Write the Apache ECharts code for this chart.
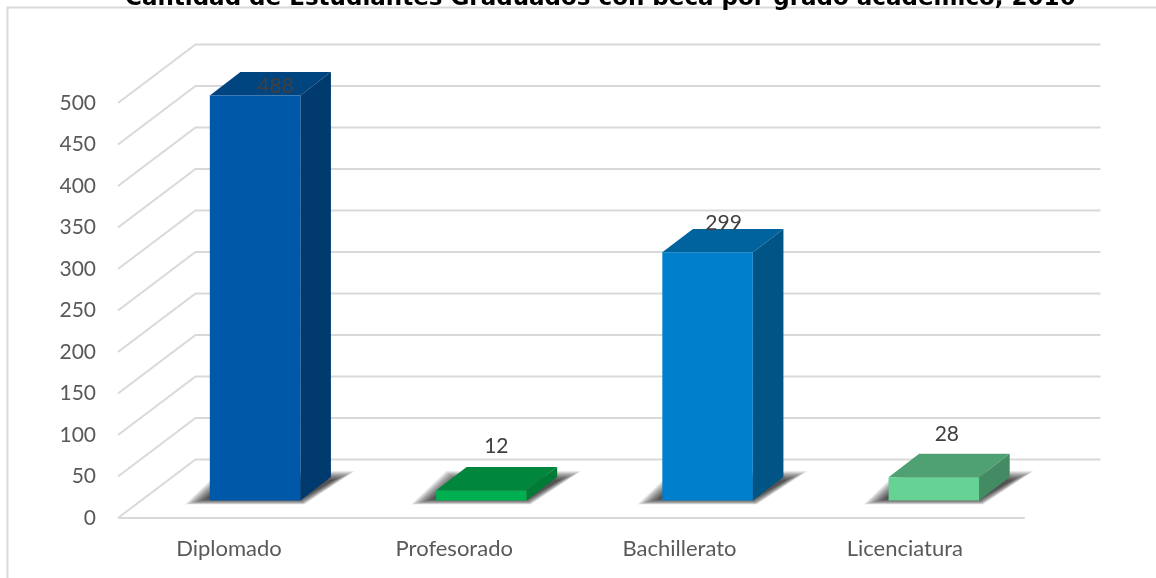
<!DOCTYPE html>
<html><head><meta charset="utf-8">
<style>html,body{margin:0;padding:0;background:#fff}#c{width:1156px;height:578px}</style>
<script src="https://cdn.jsdelivr.net/npm/echarts@6/dist/echarts.min.js"></script>
</head><body><div id="c"></div>
<script>
const titleText = 'Cantidad de Estudiantes Graduados con beca por grado académico, 2016';
const categories = ['Diplomado', 'Profesorado', 'Bachillerato', 'Licenciatura'];
const values = [488, 12, 299, 28];
const ticks = [0, 50, 100, 150, 200, 250, 300, 350, 400, 450, 500];

// styling
const frontColors = ['#0059A8', '#00B050', '#0080CC', '#66D395'];
const topColors = ['#004480', '#00873D', '#00639E', '#4FA174'];
const sideColors = ['#003A6E', '#007A37', '#005586', '#438B63'];
const labelNudge = [[20.5, -9], [15, -44.5], [16, -29.5], [13, -43]];
const WALL_DX = 76.5, WALL_DY = 58.5, NEAR = 0.3, FAR = 0.7;
const GRID_LINE = '#d9d9d9', FONT = 'Lato';
const SHADOW_LAYERS = 14;

const chart = echarts.init(document.getElementById('c'), null, {renderer: 'canvas'});

function renderWall(params, api) {
  const t = api.value(0);
  const cs = params.coordSys;
  const y = api.coord([0, t])[1];
  const x0 = cs.x, x1 = cs.x + cs.width;
  return {
    type: 'polyline', silent: true,
    shape: {points: [[x0 - 1, y], [x0 + WALL_DX, y - WALL_DY], [x1 + WALL_DX, y - WALL_DY]]},
    style: {stroke: GRID_LINE, lineWidth: 2, fill: null}
  };
}

function shadowLayers(x0, x1, b, dx, dy) {
  const out = [[x0 - 25, b + 4], [x1 + 4, b + 4], [x1 + dx + 24, b - dy - 6], [x0 + 10, b - dy - 6]];
  const inn = [[x0 - 4, b - 1], [x1, b - 1], [x1 + dx + 3, b - dy + 3], [x0 + 20, b - dy + 3]];
  const layers = [];
  for (let k = 0; k < SHADOW_LAYERS; k++) {
    const f = k / (SHADOW_LAYERS - 1);
    layers.push({
      type: 'polygon', silent: true,
      shape: {points: out.map((p, n) => [p[0] + (inn[n][0] - p[0]) * f, p[1] + (inn[n][1] - p[1]) * f])},
      style: {fill: 'rgba(0,0,0,0.075)'}
    });
  }
  return layers;
}

function renderBar(params, api) {
  const i = api.value(0), v = api.value(1);
  const band = api.size([1, 0])[0];
  const w = band * 0.4;
  const c = api.coord([i, 0]);
  const cTop = api.coord([i, v]);
  const x0 = c[0] + NEAR * WALL_DX - w / 2, x1 = x0 + w;
  const b = c[1] - NEAR * WALL_DY, t = cTop[1] - NEAR * WALL_DY;
  const dx = (FAR - NEAR) * WALL_DX, dy = (FAR - NEAR) * WALL_DY;
  const poly = (pts, fill) => ({type: 'polygon', silent: true, shape: {points: pts}, style: {fill}});
  return {
    type: 'group',
    children: shadowLayers(x0, x1, b, dx, dy).concat([
      poly([[x0, t], [x1, t], [x1 + dx, t - dy], [x0 + dx, t - dy]], topColors[i]),
      poly([[x1, t], [x1 + dx, t - dy], [x1 + dx, b - dy], [x1, b]], sideColors[i]),
      poly([[x0, t], [x1, t], [x1, b], [x0, b]], frontColors[i]),
      {
        type: 'text', silent: true,
        style: {
          x: (x0 + x1) / 2 + labelNudge[i][0], y: t + labelNudge[i][1],
          text: String(v), align: 'center', verticalAlign: 'middle',
          fill: '#404040', font: '21px ' + FONT
        }
      }
    ])
  };
}

chart.setOption({
  backgroundColor: '#fff',
  animation: false,
  title: {
    text: titleText, left: 120, top: -17,
    textStyle: {fontFamily: 'DejaVu Sans', fontWeight: 'bold', fontSize: 23, color: '#000'}
  },
  grid: [
    {left: 119, width: 905, top: 103, height: 415},
    {left: 116.4, width: 901, top: 103, height: 415}
  ],
  xAxis: [
    {type: 'category', gridIndex: 0, data: categories,
      axisLine: {lineStyle: {color: GRID_LINE, width: 2}}, axisTick: {show: false}, axisLabel: {show: false}},
    {type: 'category', gridIndex: 1, data: categories,
      axisLine: {show: false}, axisTick: {show: false},
      axisLabel: {color: '#595959', fontFamily: FONT, fontSize: 22, margin: 20}}
  ],
  yAxis: [
    {type: 'value', gridIndex: 0, min: 0, max: 500, interval: 50,
      axisLine: {show: false}, axisTick: {show: false}, splitLine: {show: false},
      axisLabel: {color: '#595959', fontFamily: FONT, fontSize: 21, margin: 23}},
    {type: 'value', gridIndex: 1, min: 0, max: 500, interval: 50, show: false}
  ],
  series: [
    {type: 'custom', xAxisIndex: 0, yAxisIndex: 0, z: 1, renderItem: renderWall, silent: true,
      data: ticks.map(t => [t]), encode: {y: 0}, clip: false},
    {type: 'custom', xAxisIndex: 0, yAxisIndex: 0, z: 2, renderItem: renderBar, silent: true,
      data: values.map((v, i) => [i, v]), encode: {x: 0, y: 1}, clip: false}
  ],
  graphic: [{
    type: 'polyline', silent: true, z: 0,
    shape: {points: [[7.5, 578], [7.5, 7.5], [1156, 7.5]]},
    style: {stroke: GRID_LINE, lineWidth: 2, fill: null}
  }]
});
</script></body></html>
